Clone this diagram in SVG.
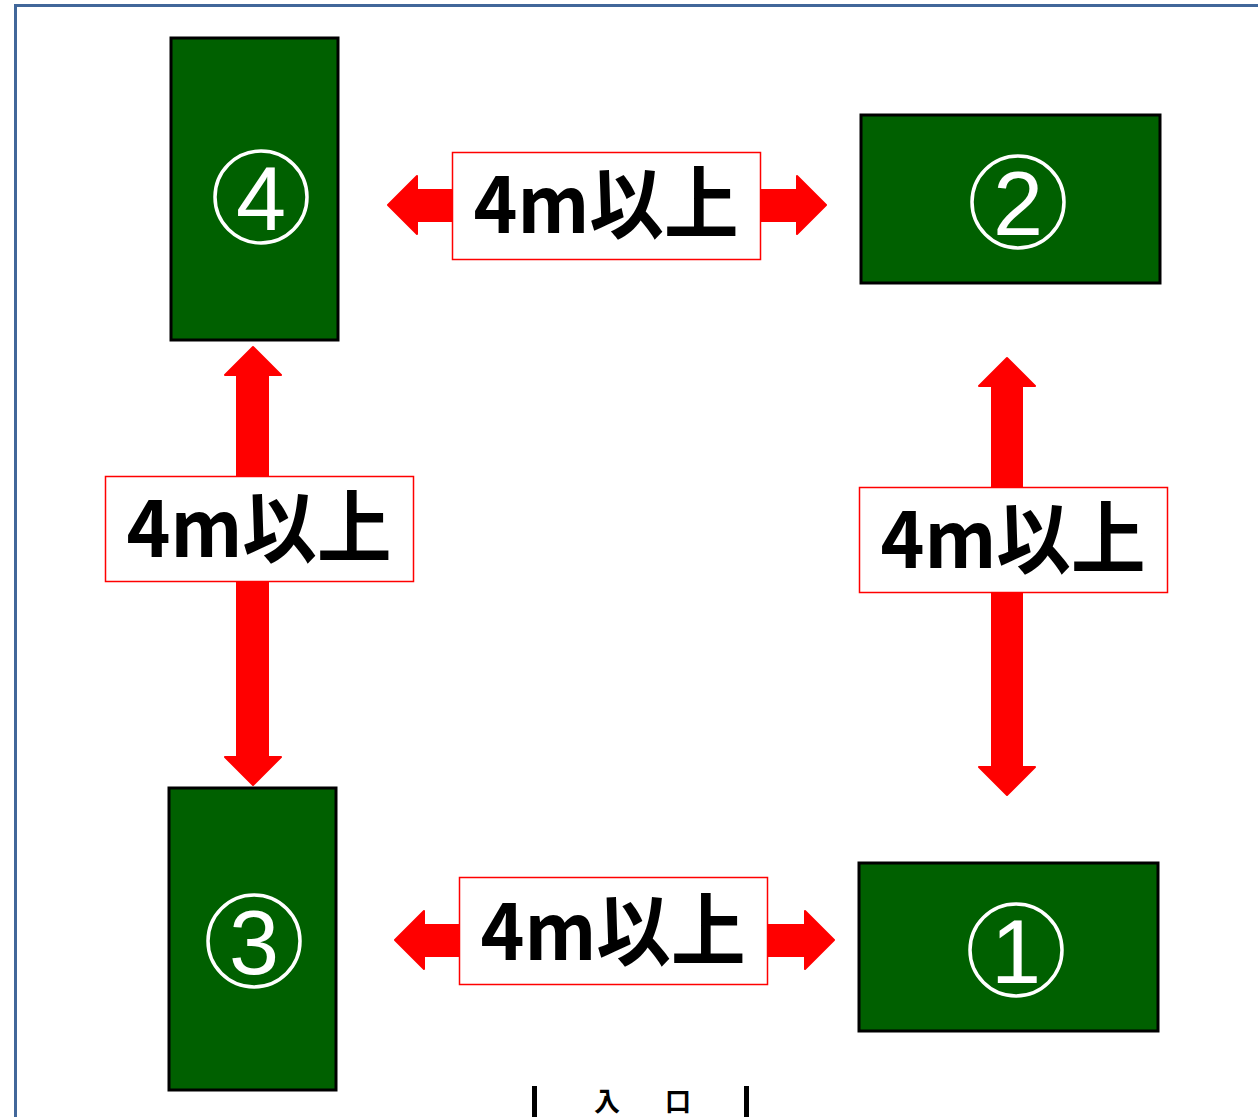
<svg xmlns="http://www.w3.org/2000/svg" width="1258" height="1117" viewBox="0 0 1258 1117">
<defs>
<style>
.frame{fill:none;stroke:#41679A;stroke-width:3}
.plot{fill:#006000;stroke:#000;stroke-width:3}
.ring{fill:none;stroke:#fff;stroke-width:3.5}
.num{fill:#fff;font-family:"Liberation Sans",Arial,sans-serif;font-size:90px;text-anchor:middle}
.arrow{fill:#FF0000;stroke:#FF0000;stroke-width:2;stroke-linejoin:round}
.lbox{fill:#fff;stroke:#FF0000;stroke-width:1.5}
.ltxt{fill:#000;font-family:"Noto Sans CJK JP","Noto Sans",sans-serif;font-weight:bold;font-size:79px;text-anchor:middle}
.ent{fill:#000;font-family:"Noto Sans CJK JP",sans-serif;font-weight:bold;font-size:26px}
</style>
</defs>
<rect width="1258" height="1117" fill="#fff"/>
<path class="frame" d="M15.5,1117 V5.5 H1258"/>

<g id="connectors">
<polygon class="arrow" points="388,205 417,176 417,190 797,190 797,176 826,205 797,234 797,221 417,221 417,234"/>
<polygon class="arrow" points="395,940 424,911 424,925 805,925 805,911 834,940 805,969 805,956 424,956 424,969"/>
<polygon class="arrow" points="253,347 281,375 268,375 268,757 281,757 253,785 225,757 237,757 237,375 225,375"/>
<polygon class="arrow" points="1007,358 1035,386 1022,386 1022,767 1035,767 1007,795 979,767 992,767 992,386 979,386"/>
</g>

<g id="label-top">
<rect class="lbox" x="452.5" y="152.5" width="308" height="107"/>
<text class="ltxt" x="606" y="233" textLength="265" lengthAdjust="spacingAndGlyphs">4m以上</text>
</g>
<g id="label-bottom">
<rect class="lbox" x="459.5" y="877.5" width="308" height="107"/>
<text class="ltxt" x="613" y="960" textLength="265" lengthAdjust="spacingAndGlyphs">4m以上</text>
</g>
<g id="label-left">
<rect class="lbox" x="105.5" y="476.5" width="308" height="105"/>
<text class="ltxt" x="259" y="557" textLength="265" lengthAdjust="spacingAndGlyphs">4m以上</text>
</g>
<g id="label-right">
<rect class="lbox" x="859.5" y="487.5" width="308" height="105"/>
<text class="ltxt" x="1013" y="568" textLength="265" lengthAdjust="spacingAndGlyphs">4m以上</text>
</g>

<g id="plot-4">
<rect class="plot" x="171" y="38" width="167" height="302"/>
<circle class="ring" cx="261" cy="197" r="46"/>
<text class="num" x="261" y="230">4</text>
</g>
<g id="plot-2">
<rect class="plot" x="861" y="115" width="299" height="168"/>
<circle class="ring" cx="1018" cy="202" r="46"/>
<text class="num" x="1018" y="235">2</text>
</g>
<g id="plot-3">
<rect class="plot" x="169" y="788" width="167" height="302"/>
<circle class="ring" cx="254" cy="941" r="46"/>
<text class="num" x="254" y="974">3</text>
</g>
<g id="plot-1">
<rect class="plot" x="859" y="863" width="299" height="168"/>
<circle class="ring" cx="1016" cy="950" r="46"/>
<text class="num" x="1016" y="983">1</text>
</g>

<g id="entrance">
<rect x="532" y="1086" width="5" height="31" fill="#000"/>
<rect x="744" y="1086" width="5" height="31" fill="#000"/>
<text class="ent" x="594 665" y="1111">入口</text>
</g>
</svg>
